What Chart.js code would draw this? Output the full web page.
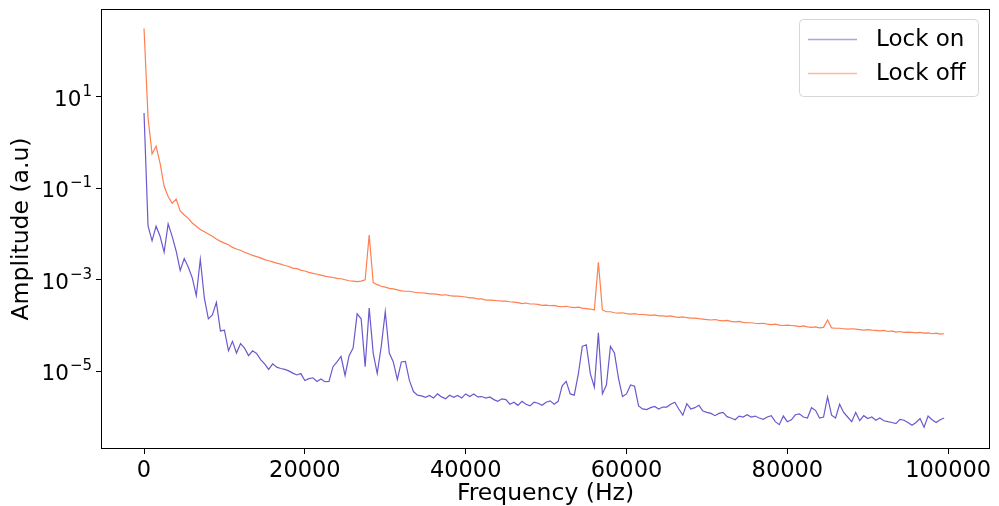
<!DOCTYPE html>
<html>
<head>
<meta charset="utf-8">
<script src="https://cdn.jsdelivr.net/npm/chart.js@4.4.1/dist/chart.umd.min.js"></script>
<style>
  html, body { margin: 0; padding: 0; background: #fff; }
  canvas { display: block; }
</style>
</head>
<body>
<canvas id="grafico" width="999" height="506"></canvas>
<script>
// amplitude spectra, one value every 500 Hz starting at 0 Hz
const freqStep = 500

const lockOn = [
    4.4, 0.015, 7.1e-3, 1.48e-2, 8.9e-3, 4.0e-3, 1.66e-2, 8.9e-3, 4.2e-3, 1.6e-3,
    2.9e-3, 1.9e-3, 1.1e-3, 4.5e-4, 2.8e-3, 4.0e-4, 1.4e-4, 1.7e-4, 3.2e-4, 7.6e-5,
    7.9e-5, 2.8e-5, 4.5e-5, 2.5e-5, 4.0e-5, 3.2e-5, 2.2e-5, 2.8e-5, 2.45e-5, 1.8e-5,
    1.45e-5, 1.1e-5, 1.45e-5, 1.23e-5, 1.15e-5, 1.1e-5, 1.02e-5, 9.1e-6, 8.3e-6, 8.9e-6,
    6.3e-6, 6.9e-6, 7.2e-6, 6.0e-6, 6.8e-6, 5.9e-6, 6.0e-6, 1.26e-5, 1.6e-5, 2.1e-5,
    8.1e-6, 2.2e-5, 3.2e-5, 1.8e-4, 1.4e-4, 1.26e-5, 2.4e-4, 2.5e-5, 8.9e-6, 3.5e-5,
    2.0e-4, 2.5e-5, 1.6e-5, 6.6e-6, 1.6e-5, 1.65e-5, 6.3e-6, 3.6e-6, 3.0e-6, 2.9e-6,
    2.7e-6, 2.95e-6, 2.6e-6, 3.2e-6, 2.75e-6, 2.5e-6, 3.0e-6, 2.7e-6, 2.95e-6, 2.6e-6,
    3.2e-6, 2.8e-6, 3.2e-6, 2.75e-6, 2.8e-6, 2.6e-6, 2.75e-6, 2.4e-6, 2.2e-6, 2.5e-6,
    2.4e-6, 1.9e-6, 2.1e-6, 1.8e-6, 2.2e-6, 1.9e-6, 1.75e-6, 2.1e-6, 2.0e-6, 1.8e-6,
    2.1e-6, 2.25e-6, 1.9e-6, 2.2e-6, 4.8e-6, 6.0e-6, 3.2e-6, 3.0e-6, 8.5e-6, 3.5e-5,
    3.8e-5, 8.9e-6, 4.5e-6, 6.9e-5, 3.2e-6, 5.0e-6, 3.5e-5, 2.5e-5, 7.1e-6, 2.8e-6,
    3.2e-6, 5.0e-6, 4.7e-6, 1.75e-6, 1.5e-6, 1.45e-6, 1.6e-6, 1.7e-6, 1.5e-6, 1.65e-6,
    1.65e-6, 1.9e-6, 2.1e-6, 1.5e-6, 1.1e-6, 1.95e-6, 1.5e-6, 1.6e-6, 1.8e-6, 1.35e-6,
    1.26e-6, 1.2e-6, 1.07e-6, 1.2e-6, 1.26e-6, 1.02e-6, 9.5e-7, 8.7e-7, 1.05e-6, 1.0e-6,
    1.12e-6, 1.0e-6, 1.05e-6, 9.5e-7, 8.9e-7, 1.0e-6, 1.07e-6, 7.9e-7, 6.8e-7, 1.05e-6,
    7.9e-7, 8.7e-7, 1.12e-6, 1.17e-6, 1.0e-6, 9.5e-7, 1.6e-6, 1.4e-6, 9.5e-7, 1.0e-6,
    2.75e-6, 1.1e-6, 9.5e-7, 1.9e-6, 1.26e-6, 1.0e-6, 7.9e-7, 1.26e-6, 8.3e-7, 1.07e-6,
    9.3e-7, 1.0e-6, 8.5e-7, 9.5e-7, 8.3e-7, 7.9e-7, 7.6e-7, 7.2e-7, 8.9e-7, 8.5e-7,
    7.6e-7, 6.6e-7, 7.6e-7, 9.3e-7, 6.0e-7, 1.05e-6, 8.7e-7, 7.6e-7, 8.7e-7, 9.5e-7
]

const lockOff = [
    310, 3.5, 0.56, 0.83, 0.35, 0.11, 0.066, 0.047, 0.058, 0.032,
    0.026, 0.022, 0.0174, 0.0148, 0.0126, 0.0112, 0.0100, 0.0089, 0.0078, 0.0069,
    0.0063, 0.0058, 0.0051, 0.0047, 0.0044, 0.0040, 0.0037, 0.0034, 0.0032, 0.0030,
    0.00275, 0.0026, 0.00245, 0.0023, 0.0022, 0.00205, 0.00195, 0.0018, 0.00175, 0.00162,
    0.00155, 0.00145, 0.00138, 0.00132, 0.00126, 0.0012, 0.00115, 0.00112, 0.00107, 0.00105,
    0.00100, 0.00095, 0.00093, 0.00091, 0.00093, 0.00100, 0.0095, 0.00087, 0.00078, 0.00072,
    0.00069, 0.00065, 0.00063, 0.0006, 0.00057, 0.00056, 0.00056, 0.00054, 0.00052, 0.00052,
    0.00051, 0.00049, 0.00049, 0.00048, 0.00046, 0.00047, 0.00045, 0.00044, 0.00044, 0.00043,
    0.00042, 0.0004, 0.0004, 0.00038, 0.00038, 0.00036, 0.00036, 0.000355, 0.000347, 0.00034,
    0.00034, 0.00033, 0.000324, 0.000316, 0.0003, 0.00031, 0.000295, 0.000295, 0.00029, 0.000275,
    0.00028, 0.00027, 0.000275, 0.000263, 0.000257, 0.000263, 0.000251, 0.000245, 0.000251, 0.00024,
    0.000234, 0.000229, 0.000219, 0.0024, 0.000219, 0.0002, 0.0002, 0.00019, 0.000186, 0.00019,
    0.000182, 0.000178, 0.000182, 0.000174, 0.000174, 0.00017, 0.000166, 0.00017, 0.000162, 0.000162,
    0.000158, 0.000162, 0.000155, 0.000151, 0.000155, 0.000148, 0.000145, 0.000145, 0.000141, 0.000138,
    0.000135, 0.000132, 0.000135, 0.000129, 0.000126, 0.000129, 0.000123, 0.00012, 0.000123, 0.000117,
    0.000115, 0.000115, 0.000112, 0.00011, 0.000112, 0.000107, 0.000105, 0.000107, 0.000102, 0.0001,
    0.000102, 0.0001, 9.8e-5, 9.5e-5, 9.8e-5, 9.3e-5, 9.1e-5, 9.3e-5, 8.9e-5, 9.1e-5,
    0.000132, 8.9e-5, 8.7e-5, 8.7e-5, 8.5e-5, 8.3e-5, 8.5e-5, 8.3e-5, 8.1e-5, 7.9e-5,
    8.1e-5, 7.9e-5, 7.8e-5, 7.6e-5, 7.8e-5, 7.4e-5, 7.6e-5, 7.2e-5, 7.4e-5, 7.1e-5,
    7.2e-5, 7.1e-5, 6.9e-5, 7.1e-5, 6.8e-5, 6.9e-5, 6.6e-5, 6.8e-5, 6.5e-5, 6.6e-5
]

const seriesNames = ['Lock on', 'Lock off']
const xTicks = [0, 20000, 40000, 60000, 80000, 100000]
const yTicks = [1e-5, 1e-3, 1e-1, 10]
const yTickExponents = ['\u22125', '\u22123', '\u22121', '1']

const freq = lockOn.map((_, i) => i * freqStep)
const toPoints = arr => arr.map((v, i) => ({ x: freq[i], y: v }))

const fontFamily = '"DejaVu Sans", sans-serif'
const lineColors = ['rgb(106, 90, 205)', 'rgb(255, 127, 80)']
const legendColors = ['rgba(106, 90, 205, 0.55)', 'rgba(255, 127, 80, 0.55)']

// box around the plot, 10^n tick labels and legend, matplotlib style
const frameAndLegend = {
    id: 'frameAndLegend',
    afterDraw(chart) {
        const { ctx, chartArea: a } = chart
        const yScale = chart.scales.y
        ctx.save()
        ctx.strokeStyle = '#000'
        ctx.lineWidth = 1
        ctx.strokeRect(a.left + 0.5, a.top + 0.5, a.right - a.left - 1, a.bottom - a.top - 1)

        // y tick labels with a raised exponent
        ctx.fillStyle = '#000'
        ctx.textBaseline = 'alphabetic'
        ctx.textAlign = 'right'
        yTicks.forEach((v, k) => {
            const y = yScale.getPixelForValue(v)
            const right = a.left - 9
            ctx.font = '15px ' + fontFamily
            const expW = ctx.measureText(yTickExponents[k]).width
            ctx.fillText(yTickExponents[k], right, y - 1)
            ctx.font = '21.5px ' + fontFamily
            ctx.fillText('10', right - expW - 1, y + 9)
        })
        ctx.textAlign = 'left'

        const w = 179, h = 77
        const x0 = a.right - 12 - w, y0 = a.top + 10
        ctx.beginPath()
        ctx.roundRect(x0 + 0.5, y0 + 0.5, w, h, 4)
        ctx.fillStyle = 'rgba(255,255,255,0.8)'
        ctx.fill()
        ctx.strokeStyle = '#d6d6d6'
        ctx.stroke()

        ctx.font = '23px ' + fontFamily
        ctx.textBaseline = 'middle'
        seriesNames.forEach((name, k) => {
            const y = y0 + 20 + k * 34
            ctx.beginPath()
            ctx.moveTo(x0 + 9, y + 0.5)
            ctx.lineTo(x0 + 58, y + 0.5)
            ctx.strokeStyle = legendColors[k]
            ctx.lineWidth = 1.5
            ctx.stroke()
            ctx.fillStyle = '#000'
            ctx.fillText(name, x0 + 77, y + 1)
        })
        ctx.restore()
    }
}

let ctx = document.getElementById('grafico').getContext('2d')

let grafico = new Chart(ctx, {
    type: 'line',
    data: {
        datasets: [
            {
                label: seriesNames[0],
                data: toPoints(lockOn),
                borderColor: lineColors[0],
                borderWidth: 1.2,
                pointRadius: 0,
                tension: 0
            },
            {
                label: seriesNames[1],
                data: toPoints(lockOff),
                borderColor: lineColors[1],
                borderWidth: 1.2,
                pointRadius: 0,
                tension: 0
            }
        ]
    },
    plugins: [frameAndLegend],
    options: {
        responsive: false,
        animation: false,
        devicePixelRatio: 1,
        layout: {
            padding: { top: 9, right: 9, left: 0, bottom: 0 }
        },
        plugins: {
            legend: { display: false },
            tooltip: { enabled: false }
        },
        scales: {
            x: {
                type: 'linear',
                min: -5350,
                max: 105200,
                afterBuildTicks: scale => {
                    scale.ticks = xTicks.map(v => ({ value: v }))
                },
                afterFit: scale => {
                    scale.height = 57
                    scale.paddingLeft = 0
                    scale.paddingRight = 0
                },
                ticks: {
                    color: '#000',
                    font: { family: fontFamily, size: 22.5 },
                    padding: 4,
                    maxRotation: 0,
                    callback: value => String(value)
                },
                grid: {
                    drawOnChartArea: false,
                    drawTicks: true,
                    tickLength: 5,
                    color: '#000'
                },
                border: { display: false },
                title: {
                    display: true,
                    text: 'Frequency (Hz)',
                    color: '#000',
                    font: { family: fontFamily, size: 23.5, lineHeight: 1 },
                    padding: { top: 0, bottom: 0 }
                }
            },
            y: {
                type: 'logarithmic',
                min: 2.0e-7,
                max: 826,
                afterBuildTicks: scale => {
                    scale.ticks = yTicks.map(v => ({ value: v }))
                },
                afterFit: scale => {
                    scale.width = 101
                    scale.paddingTop = 0
                    scale.paddingBottom = 0
                },
                ticks: {
                    display: false
                },
                grid: {
                    drawOnChartArea: false,
                    drawTicks: true,
                    tickLength: 5,
                    color: '#000'
                },
                border: { display: false },
                title: {
                    display: true,
                    text: 'Amplitude (a.u)',
                    color: '#000',
                    font: { family: fontFamily, size: 23.5 },
                    padding: { top: 8, bottom: 0 }
                }
            }
        }
    }
})
</script>
</body>
</html>
